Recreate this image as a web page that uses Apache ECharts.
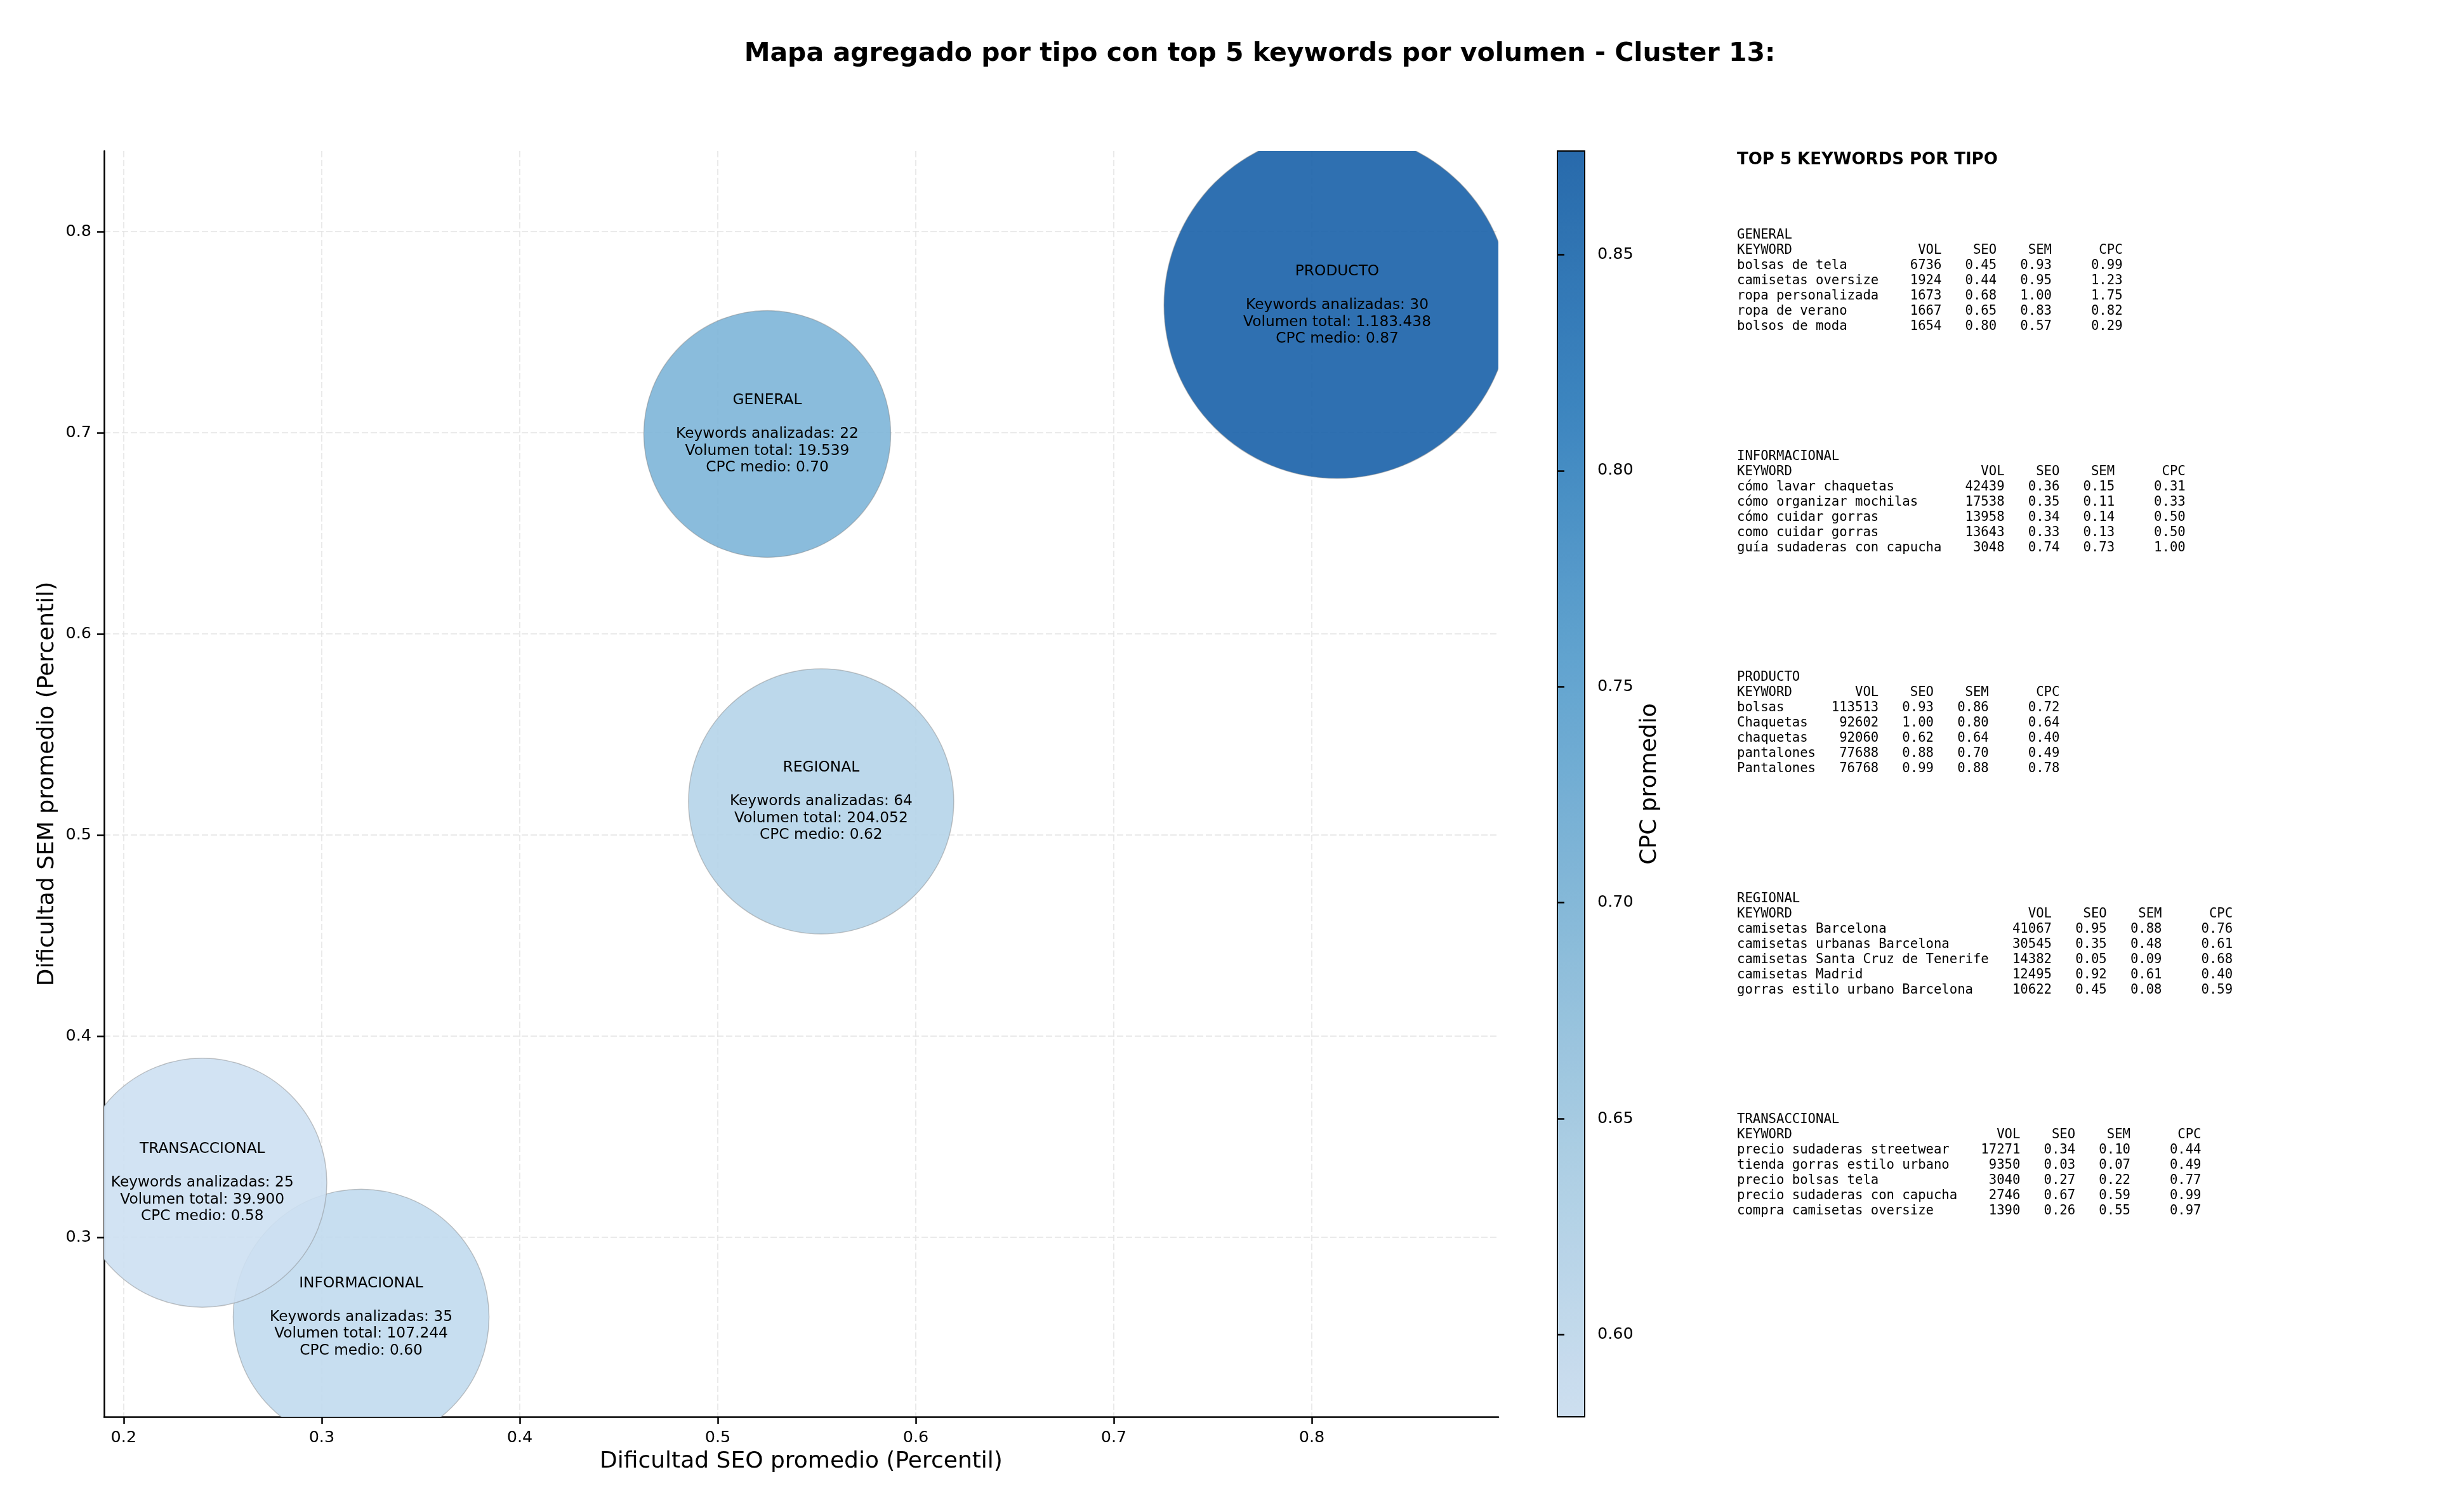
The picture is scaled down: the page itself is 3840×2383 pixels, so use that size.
<!DOCTYPE html>
<html>
<head>
<meta charset="utf-8">
<script src="https://cdn.jsdelivr.net/npm/echarts@6/dist/echarts.min.js"></script>
<style>
html,body{margin:0;padding:0;background:#fff;}
#chart{width:3840px;height:2383px;}
</style>
</head>
<body>
<div id="chart"></div>
<script>
// ---------- aggregated data per type ----------
const tipos        = ['GENERAL', 'INFORMACIONAL', 'PRODUCTO', 'REGIONAL', 'TRANSACCIONAL'];
const seoPromedio  = [0.525, 0.3199, 0.8128, 0.5522, 0.2397];
const semPromedio  = [0.6994, 0.2603, 0.7634, 0.5167, 0.3271];
const cpcMedio     = [0.70, 0.60, 0.87, 0.62, 0.58];
const volumenTotal = [19539, 107244, 1183438, 204052, 39900];
const numKeywords  = [22, 35, 30, 64, 25];

// ---------- axes ----------
const xRange  = [0.1901, 0.8942];
const yRange  = [0.2107, 0.8401];
const xTicks  = [0.2, 0.3, 0.4, 0.5, 0.6, 0.7, 0.8];
const yTicks  = [0.3, 0.4, 0.5, 0.6, 0.7, 0.8];
const cbRange = [0.581, 0.874];
const cbTicks = [0.60, 0.65, 0.70, 0.75, 0.80, 0.85];

// ---------- top 5 keywords per type ----------
const kwGeneral  = ['bolsas de tela', 'camisetas oversize', 'ropa personalizada', 'ropa de verano', 'bolsos de moda'];
const volGeneral = [6736, 1924, 1673, 1667, 1654];
const seoGeneral = [0.45, 0.44, 0.68, 0.65, 0.80];
const semGeneral = [0.93, 0.95, 1.00, 0.83, 0.57];
const cpcGeneral = [0.99, 1.23, 1.75, 0.82, 0.29];

const kwInfo  = ['cómo lavar chaquetas', 'cómo organizar mochilas', 'cómo cuidar gorras', 'como cuidar gorras', 'guía sudaderas con capucha'];
const volInfo = [42439, 17538, 13958, 13643, 3048];
const seoInfo = [0.36, 0.35, 0.34, 0.33, 0.74];
const semInfo = [0.15, 0.11, 0.14, 0.13, 0.73];
const cpcInfo = [0.31, 0.33, 0.50, 0.50, 1.00];

const kwProd  = ['bolsas', 'Chaquetas', 'chaquetas', 'pantalones', 'Pantalones'];
const volProd = [113513, 92602, 92060, 77688, 76768];
const seoProd = [0.93, 1.00, 0.62, 0.88, 0.99];
const semProd = [0.86, 0.80, 0.64, 0.70, 0.88];
const cpcProd = [0.72, 0.64, 0.40, 0.49, 0.78];

const kwReg  = ['camisetas Barcelona', 'camisetas urbanas Barcelona', 'camisetas Santa Cruz de Tenerife', 'camisetas Madrid', 'gorras estilo urbano Barcelona'];
const volReg = [41067, 30545, 14382, 12495, 10622];
const seoReg = [0.95, 0.35, 0.05, 0.92, 0.45];
const semReg = [0.88, 0.48, 0.09, 0.61, 0.08];
const cpcReg = [0.76, 0.61, 0.68, 0.40, 0.59];

const kwTrans  = ['precio sudaderas streetwear', 'tienda gorras estilo urbano', 'precio bolsas tela', 'precio sudaderas con capucha', 'compra camisetas oversize'];
const volTrans = [17271, 9350, 3040, 2746, 1390];
const seoTrans = [0.34, 0.03, 0.27, 0.67, 0.26];
const semTrans = [0.10, 0.07, 0.22, 0.59, 0.55];
const cpcTrans = [0.44, 0.49, 0.77, 0.99, 0.97];

// ---------- helpers ----------
function fmtMiles(n) { return String(n).replace(/\B(?=(\d{3})+(?!\d))/g, '.'); }
function tabla(nombre, kw, vol, seo, sem, cpc) {
  const w = Math.max(...kw.map(k => k.length), 'KEYWORD'.length);
  const lines = [nombre,
    'KEYWORD'.padEnd(w) + 'VOL'.padStart(8) + 'SEO'.padStart(7) + 'SEM'.padStart(7) + 'CPC'.padStart(9)];
  for (let i = 0; i < kw.length; i++) {
    lines.push(kw[i].padEnd(w) + String(vol[i]).padStart(8) + seo[i].toFixed(2).padStart(7) +
               sem[i].toFixed(2).padStart(7) + cpc[i].toFixed(2).padStart(9));
  }
  return lines.join('\n');
}
const tablas = [
  tabla('GENERAL', kwGeneral, volGeneral, seoGeneral, semGeneral, cpcGeneral),
  tabla('INFORMACIONAL', kwInfo, volInfo, seoInfo, semInfo, cpcInfo),
  tabla('PRODUCTO', kwProd, volProd, seoProd, semProd, cpcProd),
  tabla('REGIONAL', kwReg, volReg, seoReg, semReg, cpcReg),
  tabla('TRANSACCIONAL', kwTrans, volTrans, seoTrans, semTrans, cpcTrans)
];

const maxVol = Math.max(...volumenTotal);
const R0 = 193;
const FONT = '"DejaVu Sans", "Liberation Sans", sans-serif';
const MONO = '"DejaVu Sans Mono", "Liberation Mono", monospace';

const bubbleData = tipos.map((t, i) => [seoPromedio[i], semPromedio[i], cpcMedio[i], volumenTotal[i], numKeywords[i]]);

const chart = echarts.init(document.getElementById('chart'), null, {renderer: 'canvas'});

const tablaY0 = 359, tablaStep = 348.5;
const graphic = [
  {type: 'text', x: 1985, y: 85, style: {text: 'Mapa agregado por tipo con top 5 keywords por volumen - Cluster 13:',
    font: 'bold 41px ' + FONT, fill: '#000', align: 'center', verticalAlign: 'middle'}},
  {type: 'text', x: 2737, y: 252, style: {text: 'TOP 5 KEYWORDS POR TIPO',
    font: 'bold 26px ' + FONT, fill: '#000', align: 'left', verticalAlign: 'middle'}}
];
tablas.forEach((t, i) => {
  graphic.push({type: 'text', x: 2737, y: tablaY0 + i * tablaStep,
    style: {text: t, font: '20.6px ' + MONO, lineHeight: 24, fill: '#000', align: 'left', verticalAlign: 'top'}});
});

const axisLineStyle = {color: '#000', width: 2.5};
const option = {
  backgroundColor: '#fff',
  animation: false,
  graphic: graphic,
  grid: [
    {left: 164, top: 238, width: 2197, height: 1995},
    {left: 2454, top: 238, width: 43, height: 1995, show: true, borderColor: '#000', borderWidth: 2,
     backgroundColor: 'transparent', z: 10}
  ],
  xAxis: [
    {gridIndex: 0, type: 'value', min: xRange[0], max: xRange[1],
     name: 'Dificultad SEO promedio (Percentil)', nameLocation: 'middle', nameGap: 53,
     nameTextStyle: {fontSize: 36, fontFamily: FONT, color: '#000'},
     axisLine: {show: true, lineStyle: axisLineStyle},
     axisTick: {show: true, length: 11, customValues: xTicks, lineStyle: {color: '#000', width: 2.5}},
     axisLabel: {customValues: xTicks, fontSize: 25.5, fontFamily: FONT, color: '#000', margin: 20,
                 formatter: v => v.toFixed(1)},
     splitLine: {show: true, lineStyle: {type: [10, 4], color: '#e3e3e3', width: 1.5}}},
    {gridIndex: 1, type: 'value', min: 0, max: 1, show: false}
  ],
  yAxis: [
    {gridIndex: 0, type: 'value', min: yRange[0], max: yRange[1],
     name: 'Dificultad SEM promedio (Percentil)', nameLocation: 'middle', nameGap: 71,
     nameTextStyle: {fontSize: 36, fontFamily: FONT, color: '#000'},
     axisLine: {show: true, lineStyle: axisLineStyle},
     axisTick: {show: true, length: 11, customValues: yTicks, lineStyle: {color: '#000', width: 2.5}},
     axisLabel: {customValues: yTicks, fontSize: 25.5, fontFamily: FONT, color: '#000', margin: 20,
                 formatter: v => v.toFixed(1)},
     splitLine: {show: true, lineStyle: {type: [10, 4], color: '#e3e3e3', width: 1.5}}},
    {gridIndex: 1, type: 'value', position: 'right', min: cbRange[0], max: cbRange[1],
     name: 'CPC promedio', nameLocation: 'middle', nameGap: 85, nameRotate: 90,
     nameTextStyle: {fontSize: 36, fontFamily: FONT, color: '#000'},
     axisLine: {show: false},
     axisTick: {show: true, length: 11, customValues: cbTicks, lineStyle: {color: '#000', width: 2.5}},
     axisLabel: {customValues: cbTicks, fontSize: 25.5, fontFamily: FONT, color: '#000', margin: 20,
                 formatter: v => v.toFixed(2)},
     splitLine: {show: false}, z: 11}
  ],
  visualMap: {
    type: 'continuous', min: cbRange[0], max: cbRange[1], dimension: 2, seriesIndex: 0,
    inRange: {color: ['rgba(205,224,242,0.9)', 'rgba(169,206,229,0.9)', 'rgba(126,182,216,0.9)',
                      'rgba(85,158,206,0.9)', 'rgba(44,124,188,0.9)', 'rgba(22,95,167,0.9)']},
    left: 2454, top: 238, itemWidth: 43, itemHeight: 1995, padding: 0,
    calculable: false, hoverLink: false, text: null, orient: 'vertical', z: 4
  },
  series: [
    {
      type: 'custom', xAxisIndex: 0, yAxisIndex: 0, clip: true, z: 2,
      data: bubbleData, encode: {x: 0, y: 1},
      renderItem: (params, api) => {
        const c = api.coord([api.value(0), api.value(1)]);
        const r = R0 * Math.sqrt(1 + api.value(3) / maxVol);
        const cs = params.coordSys;
        return {type: 'circle', shape: {cx: c[0], cy: c[1], r: r},
                clipPath: {type: 'rect', shape: {x: cs.x, y: cs.y, width: cs.width, height: cs.height}},
                style: {fill: api.visual('color'), stroke: 'rgba(130,130,130,0.45)', lineWidth: 1.5}};
      }
    },
    {
      type: 'custom', xAxisIndex: 0, yAxisIndex: 0, clip: false, z: 3,
      data: bubbleData, encode: {x: 0, y: 1},
      renderItem: (params, api) => {
        const c = api.coord([api.value(0), api.value(1)]);
        const i = params.dataIndex;
        const txt = tipos[i] + '\n\nKeywords analizadas: ' + numKeywords[i] +
                    '\nVolumen total: ' + fmtMiles(volumenTotal[i]) +
                    '\nCPC medio: ' + cpcMedio[i].toFixed(2);
        return {type: 'text', x: c[0], y: c[1],
                style: {text: txt, font: '23.3px ' + FONT, lineHeight: 26.5, fill: '#000',
                        align: 'center', verticalAlign: 'middle'}};
      }
    }
  ]
};
chart.setOption(option);
</script>
</body>
</html>
